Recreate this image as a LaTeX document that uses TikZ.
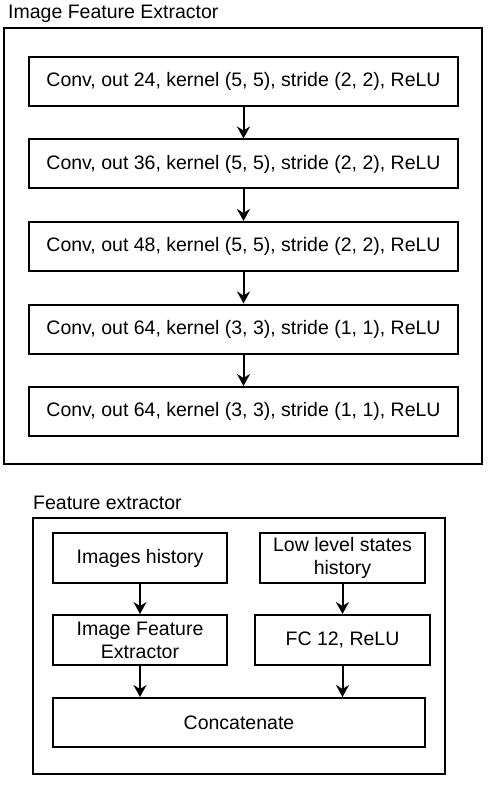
\documentclass[tikz,border=0pt]{standalone}
\usepackage{fontspec}
\setmainfont{Liberation Sans}
\usetikzlibrary{arrows.meta}

\begin{document}
\begin{tikzpicture}[x=1pt,y=-1pt,font=\fontsize{19.5}{23}\selectfont,
  blk/.style={draw,line width=2pt,minimum height=49pt,inner sep=0pt,align=center},
  arr/.style={line width=2pt,-{Stealth[length=12pt,width=13pt,inset=4pt]}}]
\useasboundingbox (0,0) rectangle (487,786);

% image feature extractor
\node[draw,line width=2pt,minimum width=478pt,minimum height=436pt] (ife) at (243,246) {};
\node[anchor=base west,inner sep=0pt] (ifetitle) at (8,19) {Image Feature Extractor};

\node[blk,minimum width=429pt] (conva) at (243.5,81.5) {Conv, out 24, kernel (5, 5), stride (2, 2), ReLU};
\node[blk,minimum width=429pt] (convb) at (243.5,164) {Conv, out 36, kernel (5, 5), stride (2, 2), ReLU};
\node[blk,minimum width=429pt] (convc) at (243.5,246.5) {Conv, out 48, kernel (5, 5), stride (2, 2), ReLU};
\node[blk,minimum width=429pt] (convd) at (243.5,329) {Conv, out 64, kernel (3, 3), stride (1, 1), ReLU};
\node[blk,minimum width=429pt] (conve) at (243.5,411.5) {Conv, out 64, kernel (3, 3), stride (1, 1), ReLU};

\draw[arr] (conva) -- (convb);
\draw[arr] (convb) -- (convc);
\draw[arr] (convc) -- (convd);
\draw[arr] (convd) -- (conve);

% feature extractor
\node[draw,line width=2pt,minimum width=412pt,minimum height=256pt] (fe) at (239,646) {};
\node[anchor=base west,inner sep=0pt] (fetitle) at (33,509) {Feature extractor};

\node[blk,minimum width=174pt,minimum height=50pt] (imghist) at (140,558) {Images history};
\node[blk,minimum width=165pt,minimum height=50pt] (lowhist) at (342.5,558) {Low level states\\history};
\node[blk,minimum width=174pt,minimum height=50pt] (ifebox) at (140,640) {Image Feature\\Extractor};
\node[blk,minimum width=175pt,minimum height=50pt] (fc) at (342.5,640) {FC 12, ReLU};
\node[blk,minimum width=372pt] (concat) at (239,722.5) {Concatenate};

\draw[arr] (imghist) -- (ifebox);
\draw[arr] (lowhist) -- (fc);
\draw[arr] (ifebox.south) -- (ifebox.south |- concat.north);
\draw[arr] (fc.south) -- (fc.south |- concat.north);

\end{tikzpicture}
\end{document}
